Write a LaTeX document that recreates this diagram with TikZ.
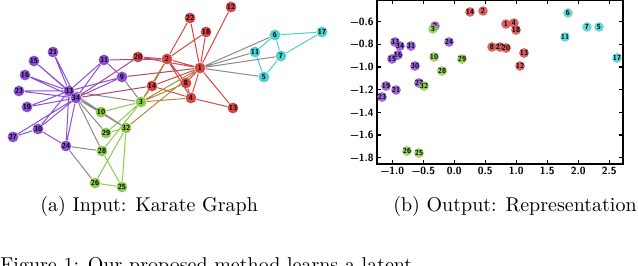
\documentclass[tikz,border=0pt]{standalone}
\usepackage{xcolor}
\usepackage{tikz}
\usetikzlibrary{backgrounds}

\definecolor{kpurple}{HTML}{8C4FD8}
\definecolor{kgreen}{HTML}{8CCB4C}
\definecolor{kred}{HTML}{D54848}
\definecolor{kcyan}{HTML}{4ED0D2}
\definecolor{kmag}{HTML}{B0457E}
\definecolor{kbrown}{HTML}{B08B3A}
\definecolor{kgrey}{HTML}{8A8A8A}

\begin{document}
\begin{tikzpicture}[
    x=0.5pt, y=-0.5pt,
    every node/.style={font=\fontsize{3.7}{4}\selectfont\sffamily\bfseries},
    vert/.style={circle, fill=#1, inner sep=0pt, minimum size=5.4pt},
    vert/.default=kpurple,
    emb/.style={circle, fill=#1, fill opacity=.85, text opacity=1, inner sep=0pt, minimum size=4.8pt},
    emb/.default=kpurple,
    link/.style={draw=#1, line width=0.5pt},
    axis/.style={line width=0.7pt},
    ticklab/.style={font=\fontsize{5.2}{6}\selectfont\sffamily\bfseries, inner sep=1pt},
    capt/.style={font=\fontsize{10}{12}\selectfont\rmfamily\mdseries, inner sep=0pt},
]
    \useasboundingbox (0,0) rectangle (638,266);

    % (a) karate graph
    \node[vert=kred] (n1) at (200,68) {1};
    \node[vert=kred] (n2) at (167,59) {2};
    \node[vert=kgreen] (n3) at (141,102) {3};
    \node[vert=kred] (n4) at (191,98) {4};
    \node[vert=kcyan] (n5) at (264,77) {5};
    \node[vert=kcyan] (n6) at (275,35) {6};
    \node[vert=kcyan] (n7) at (281,56) {7};
    \node[vert=kred] (n8) at (186,83) {8};
    \node[vert] (n9) at (122,77) {9};
    \node[vert=kgreen] (n10) at (101,112) {10};
    \node[vert=kcyan] (n11) at (255,52) {11};
    \node[vert=kred] (n12) at (231,7) {12};
    \node[vert=kred] (n13) at (233,108) {13};
    \node[vert=kred] (n14) at (152,86) {14};
    \node[vert] (n15) at (34,61) {15};
    \node[vert] (n16) at (25,75) {16};
    \node[vert=kcyan] (n17) at (322,32) {17};
    \node[vert=kred] (n18) at (206,32) {18};
    \node[vert] (n19) at (27,107) {19};
    \node[vert=kred] (n20) at (138,57) {20};
    \node[vert] (n21) at (53,52) {21};
    \node[vert=kred] (n22) at (190,18) {22};
    \node[vert] (n23) at (19,91) {23};
    \node[vert] (n24) at (66,146) {24};
    \node[vert=kgreen] (n25) at (122,187) {25};
    \node[vert=kgreen] (n26) at (95,183) {26};
    \node[vert] (n27) at (13,137) {27};
    \node[vert=kgreen] (n28) at (102,151) {28};
    \node[vert=kgreen] (n29) at (106,133) {29};
    \node[vert] (n30) at (38,129) {30};
    \node[vert] (n31) at (104,60) {31};
    \node[vert=kgreen] (n32) at (126,128) {32};
    \node[vert] (n33) at (69,91) {33};
    \node[vert] (n34) at (76,98) {34};

    \begin{scope}[on background layer]
    \draw[link=kred] (n1) -- (n2) (n1) -- (n4) (n1) -- (n8) (n1) -- (n12) (n1) -- (n13)
        (n1) -- (n14) (n1) -- (n18) (n1) -- (n20) (n1) -- (n22) (n2) -- (n4) (n2) -- (n8)
        (n2) -- (n14) (n2) -- (n18) (n2) -- (n20) (n2) -- (n22) (n4) -- (n8) (n4) -- (n13)
        (n4) -- (n14);
    \draw[link=kcyan] (n5) -- (n7) (n5) -- (n11) (n6) -- (n7) (n6) -- (n11) (n6) -- (n17)
        (n7) -- (n17);
    \draw[link=kpurple] (n9) -- (n31) (n9) -- (n33) (n9) -- (n34) (n15) -- (n33)
        (n15) -- (n34) (n16) -- (n33) (n16) -- (n34) (n19) -- (n33) (n19) -- (n34)
        (n21) -- (n33) (n21) -- (n34) (n23) -- (n33) (n23) -- (n34) (n24) -- (n30)
        (n24) -- (n33) (n24) -- (n34) (n27) -- (n30) (n27) -- (n34) (n30) -- (n33)
        (n30) -- (n34) (n31) -- (n33) (n31) -- (n34) (n33) -- (n34);
    \draw[link=kgreen] (n3) -- (n10) (n3) -- (n28) (n3) -- (n29) (n25) -- (n26)
        (n25) -- (n28) (n25) -- (n32) (n26) -- (n32) (n29) -- (n32);
    \draw[link=kgrey] (n1) -- (n5) (n1) -- (n6) (n1) -- (n7) (n1) -- (n11)
        (n3) -- (n9) (n3) -- (n33) (n10) -- (n34) (n24) -- (n26) (n24) -- (n28)
        (n28) -- (n34) (n29) -- (n34) (n32) -- (n33) (n32) -- (n34);
    \draw[link=kmag] (n1) -- (n9) (n2) -- (n31) (n14) -- (n34) (n20) -- (n34);
    \draw[link=kbrown] (n1) -- (n3) (n1) -- (n32) (n2) -- (n3) (n3) -- (n4) (n3) -- (n8)
        (n3) -- (n14);
    \end{scope}

    % (b) embedding
    \draw[axis] (377,0) rectangle (623,164);
    \foreach \k/\v in {0/{\textminus1.0},1/{\textminus0.5},2/0.0,3/0.5,4/1.0,5/1.5,6/2.0,7/2.5} {
        \draw[axis] (392.3+31*\k,164) -- ++(0,-4) (392.3+31*\k,0) -- ++(0,4);
        \node[ticklab, anchor=north] at (392.3+31*\k,165) {\v};
    }
    \foreach \k/\v in {0/0.6,1/0.8,2/1.0,3/1.2,4/1.4,5/1.6,6/1.8} {
        \draw[axis] (377,21.7+22.67*\k) -- ++(4,0) (623,21.7+22.67*\k) -- ++(-4,0);
        \node[ticklab, anchor=east] at (376,21.7+22.67*\k) {\textminus\v};
    }

    \node[emb] (e9) at (435,26) {9};
    \node[emb=kgreen] (e3) at (433,29) {3};
    \node[emb] (e33) at (395,42) {33};
    \node[emb] (e34) at (400,46) {34};
    \node[emb] (e31) at (411,46) {31};
    \node[emb] (e24) at (449,42) {24};
    \node[emb] (e16) at (398,55) {16};
    \node[emb] (e15) at (392,59) {15};
    \node[emb] (e30) at (415,66) {30};
    \node[emb] (e19) at (386,86) {19};
    \node[emb] (e21) at (396,90) {21};
    \node[emb] (e27) at (419,83) {27};
    \node[emb=kgreen] (e32) at (424,86) {32};
    \node[emb] (e23) at (382,97) {23};
    \node[emb=kgreen] (e10) at (434,57) {10};
    \node[emb=kgreen] (e29) at (462,59) {29};
    \node[emb=kgreen] (e28) at (442,71) {28};
    \node[emb=kgreen] (e26) at (407,151) {26};
    \node[emb=kgreen] (e25) at (419,153) {25};
    \node[emb=kred] (e14) at (470,12) {14};
    \node[emb=kred] (e2) at (483,11) {2};
    \node[emb=kred] (e1) at (506,24) {1};
    \node[emb=kred] (e4) at (514,23) {4};
    \node[emb=kred] (e18) at (516,30) {18};
    \node[emb=kred] (e8) at (492,47) {8};
    \node[emb=kred] (e22) at (500,47) {22};
    \node[emb=kred] (e20) at (506,48) {20};
    \node[emb=kred] (e13) at (524,53) {13};
    \node[emb=kred] (e12) at (520,66) {12};
    \node[emb=kcyan] (e6) at (568,13) {6};
    \node[emb=kcyan] (e7) at (587,27) {7};
    \node[emb=kcyan] (e5) at (599,27) {5};
    \node[emb=kcyan] (e11) at (565,37) {11};
    \node[emb=kcyan] (e17) at (617,58) {17};

    % captions
    \node[capt, anchor=west] (capa) at (40,207) {(a) Input: Karate Graph};
    \node[capt, anchor=east] (capb) at (637,207) {(b) Output: Representation};
    \node[capt, anchor=base west] (figline) at (0,272) {Figure 1: Our proposed method learns a latent};
\end{tikzpicture}
\end{document}
